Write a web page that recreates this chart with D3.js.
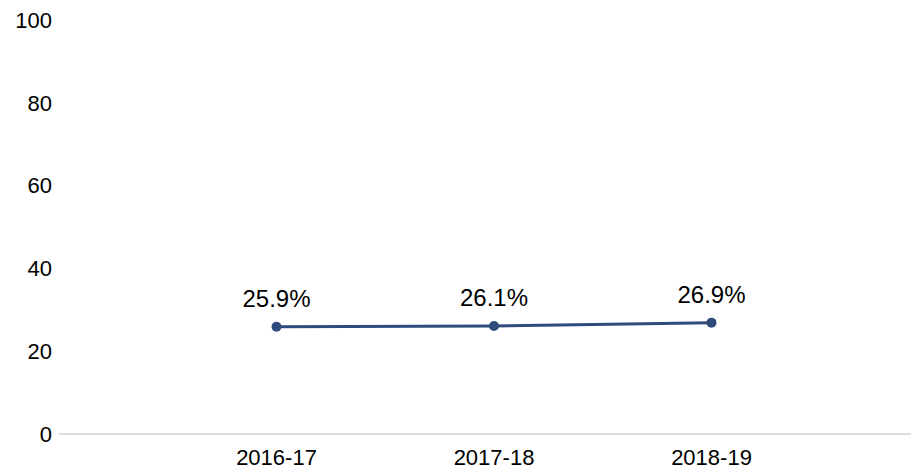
<!DOCTYPE html>
<html>
<head>
<meta charset="utf-8">
<script src="https://cdn.jsdelivr.net/npm/d3@7"></script>
<style>
body{margin:0;background:#fff;}
text{font-family:"Liberation Sans",Arial,sans-serif;fill:#000;}
</style>
</head>
<body>
<svg id="chart"></svg>
<script>
var years = ["2016-17","2017-18","2018-19"]
var values = [25.9,26.1,26.9]
var yTicks = [0,20,40,60,80,100]

var width=911, height=470
var svg = d3.select("#chart").attr("width",width).attr("height",height)

var x = d3.scalePoint().domain(years).range([59,929]).padding(1)
var y = d3.scaleLinear().domain([0,100]).range([434,20])

// y labels
svg.selectAll(".ylab").data(yTicks).enter()
   .append("text")
   .attr("x",52)
   .attr("y",d=>y(d))
   .attr("dy","0.35em")
   .attr("text-anchor","end")
   .attr("font-size","22px")
   .text(d=>d)

// baseline
svg.append("line")
   .attr("x1",59).attr("x2",911)
   .attr("y1",y(0)).attr("y2",y(0))
   .attr("stroke","#dcdcdc")
   .attr("stroke-width",2)

// x labels
svg.selectAll(".xlab").data(years).enter()
   .append("text")
   .attr("x",d=>x(d))
   .attr("y",465)
   .attr("text-anchor","middle")
   .attr("font-size","22px")
   .text(d=>d)

var pts = years.map((d,i)=>({year:d,value:values[i]}))

var line = d3.line().x(d=>x(d.year)).y(d=>y(d.value))
svg.append("path")
   .datum(pts)
   .attr("fill","none")
   .attr("stroke","#2f4b7c")
   .attr("stroke-width",3)
   .attr("d",line)

svg.selectAll(".dot").data(pts).enter()
   .append("circle")
   .attr("cx",d=>x(d.year))
   .attr("cy",d=>y(d.value))
   .attr("r",5)
   .attr("fill","#2f4b7c")

svg.selectAll(".lbl").data(pts).enter()
   .append("text")
   .attr("x",d=>x(d.year))
   .attr("y",d=>y(d.value)-20)
   .attr("text-anchor","middle")
   .attr("font-size","24px")
   .text(d=>d.value.toFixed(1)+"%")
</script>
</body>
</html>
